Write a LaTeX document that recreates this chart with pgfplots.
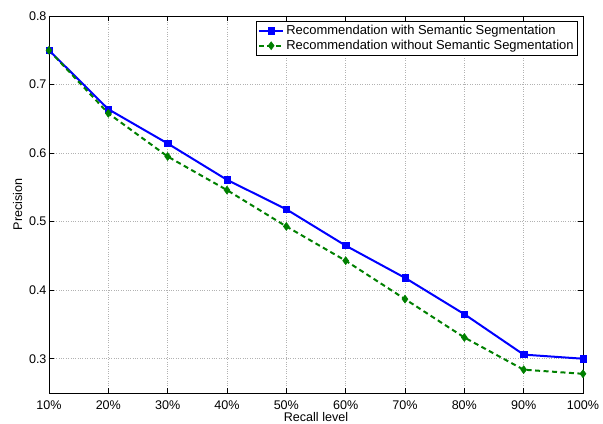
\documentclass[border=0pt]{standalone}
\usepackage{fontspec}
\setmainfont{Liberation Sans}
\usepackage{pgfplots}
\pgfplotsset{compat=1.18}
\begin{document}
\begin{tikzpicture}
\path[use as bounding box] (-49bp,-31bp) rectangle (554bp,393bp);
\begin{axis}[
  at={(0,0)}, anchor=south west,
  scale only axis,
  width=534bp, height=377bp,
  xmin=10, xmax=100, ymin=0.25, ymax=0.8,
  xtick={10,20,...,100},
  xticklabels={10\%,20\%,30\%,40\%,50\%,60\%,70\%,80\%,90\%,100\%},
  ytick={0.3,0.4,0.5,0.6,0.7,0.8},
  yticklabel style={xshift=1bp, /pgf/number format/.cd,fixed,precision=1,fixed zerofill},
  /pgf/number format/assume math mode=true,
  tick align=inside,
  tick pos=both,
  major tick length=5bp,
  tick style={black, line width=0.5pt},
  axis line style={black, line width=0.8pt},
  grid=major,
  grid style={gray!60, dotted, line width=0.6pt},
  ticklabel style={font=\fontsize{12.6}{14}\selectfont},
  xticklabel style={yshift=-4bp},
  xlabel={Recall level}, ylabel={Precision},
  label style={font=\fontsize{12.6}{14}\selectfont},
  xlabel style={yshift=4bp},
  ylabel style={yshift=0bp},
  legend style={at={(1,1)}, anchor=north east, xshift=-5bp, yshift=-5bp,
    font=\fontsize{13}{14}\selectfont, draw=black, line width=0.8pt,
    inner sep=2bp, row sep=0pt, cells={anchor=west}},
  legend cell align=left,
  legend image code/.code={\draw[mark repeat=2, mark phase=2] plot coordinates {(0cm,0cm) (0.43cm,0cm) (0.86cm,0cm)};},
]
\addplot[blue, line width=2bp, mark=square*, mark size=3.1bp, mark options={solid, fill=blue, line width=0.5pt}]
coordinates {(10,0.750) (20,0.664) (30,0.614) (40,0.561) (50,0.518) (60,0.465) (70,0.418) (80,0.365) (90,0.306) (100,0.300)};
\addlegendentry{Recommendation with Semantic Segmentation}
\addplot[color={rgb,255:red,0;green,128;blue,0}, line width=2bp, dash pattern=on 5bp off 3.5bp, mark=diamond*, mark size=4bp, mark options={solid, fill={rgb,255:red,0;green,128;blue,0}, line width=0.5pt}]
coordinates {(10,0.750) (20,0.658) (30,0.595) (40,0.546) (50,0.493) (60,0.443) (70,0.387) (80,0.331) (90,0.284) (100,0.278)};
\addlegendentry{Recommendation without Semantic Segmentation}
\end{axis}
\end{tikzpicture}
\end{document}
